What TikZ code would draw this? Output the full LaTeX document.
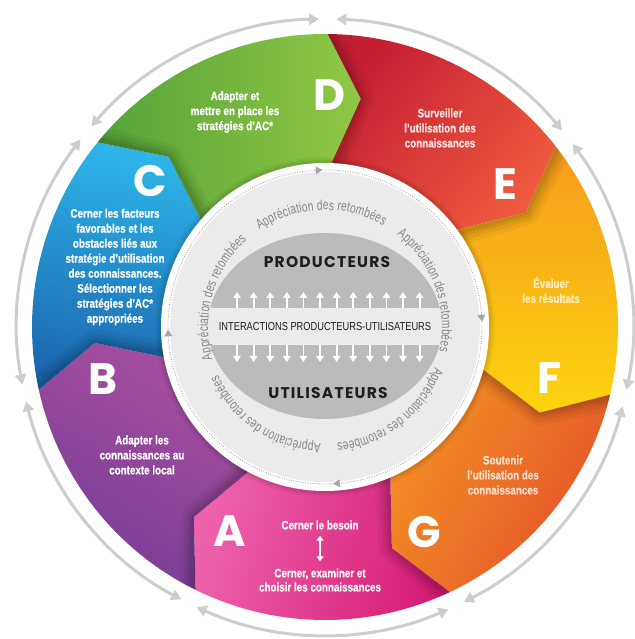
\documentclass[tikz,border=0pt]{standalone}
\usepackage{fontspec}
\setmainfont{Liberation Sans}
\newfontfamily\condfont[FakeStretch=0.8]{Liberation Sans}
\newfontfamily\condbold[FakeStretch=0.8, FakeBold=0.7]{Liberation Sans Bold}
\newfontfamily\apprfont[FakeStretch=0.72]{Liberation Sans}
\newfontfamily\bigfont{Poppins}
\newfontfamily\headfont[LetterSpace=8]{Poppins}
\usetikzlibrary{arrows.meta,decorations.text}
\definecolor{ringgrey}{HTML}{CDCDCD}
\definecolor{apprgrey}{HTML}{858585}
\definecolor{dotgrey}{HTML}{A5A5A5}
\definecolor{lightring}{HTML}{EBEBEB}
\definecolor{discgrey}{HTML}{BBBBBB}
\definecolor{darktext}{HTML}{1E1E1E}
\definecolor{Et}{HTML}{EF5A3E}\definecolor{Eb}{HTML}{C41E32}
\definecolor{Ft}{HTML}{F49B1D}\definecolor{Fb}{HTML}{FDD40F}
\definecolor{Gt}{HTML}{F39224}\definecolor{Gb}{HTML}{E5502A}
\definecolor{At}{HTML}{EE62AB}\definecolor{Ab}{HTML}{D61C74}
\definecolor{Bt}{HTML}{A94F9F}\definecolor{Bb}{HTML}{783D97}
\definecolor{Ct}{HTML}{2DB6E9}\definecolor{Cb}{HTML}{1C66AE}
\definecolor{Dt}{HTML}{90C844}\definecolor{Db}{HTML}{55A23A}
\begin{document}
\begin{tikzpicture}[x=1pt,y=1pt,
  segtext/.style={text=white, font=\condbold\fontsize{12.3}{15}\selectfont, align=center, inner sep=0pt},
  bigletter/.style={text=white, font=\bigfont\bfseries\fontsize{44}{44}\selectfont, inner sep=0pt},
  outarrow/.style={draw=ringgrey, line width=3pt, {Triangle[length=10pt,width=11pt]}-{Triangle[length=10pt,width=11pt]}},
  headtext/.style={text=darktext, font=\headfont\bfseries\fontsize{15.5}{16}\selectfont, inner sep=0pt},
  pu/.style={draw=white, line width=1.8pt, -{Triangle[length=6pt,width=7.5pt]}}]
\useasboundingbox (0,0) rectangle (634,639);
\begin{scope}[shift={(325,312)}]
  \def\Ro{293}
  % coloured segments
  \foreach \a/\ct/\cb/\ang in {89.5/Et/Eb/-130, 38.0714/Ft/Fb/0, -13.3572/Gt/Gb/60, -64.7858/At/Ab/75, -116.2144/Bt/Bb/-30, -167.643/Ct/Cb/-10, -219.0716/Dt/Db/-90} {
    \pgfmathsetmacro\b{\a-51.4286}
    \shade[top color=\ct, bottom color=\cb, shading angle=\ang]
      (\a:\Ro) arc[start angle=\a, end angle=\b, radius=\Ro] -- (\b-8.4:231) -- (\b+0.5:150)
      arc[start angle=\b+0.5, end angle=\a+0.5, radius=150] -- (\a-8.4:231) -- cycle;
  }
  % shadows cast by each chevron on the next segment
  \foreach \a in {89.5, 38.0714, -13.3572, -64.7858, -116.2144, -167.643, -219.0716} {
    \pgfmathsetmacro\b{\a-51.4286}
    \begin{scope}
      \clip (\a:\Ro) arc[start angle=\a, end angle=\b, radius=\Ro] -- (\b-8.4:231) -- (\b+0.5:150)
      arc[start angle=\b+0.5, end angle=\a+0.5, radius=150] -- (\a-8.4:231) -- cycle;
      \foreach \w/\o in {26/0.04, 18/0.05, 11/0.06, 5/0.07}
        \draw[black, opacity=\o, line width=\w, line join=round] (\a:\Ro+6) -- (\a-8.4:231) -- (\a+0.5:140);
    \end{scope}
  }
  % outer arrows
  \foreach \a in {89.5, 38.0714, -13.3572, -64.7858, -116.2144, -167.643, -219.0716} {
    \draw[outarrow] (\a-1.6:308) arc[start angle=\a-1.6, end angle=\a-51.4286+1.6, radius=308];
  }
  % inner disc
  \foreach \w/\o in {10/0.03, 6/0.04, 3/0.05}
    \draw[black, opacity=\o, line width=\w] (0,0) circle (165);
  \fill[white] (0,0) circle (164);
  \fill[lightring] (0,0) circle (155);
  \draw[dotgrey, line width=0.9pt, dash pattern=on 0.8pt off 1.6pt] (0,0) circle (157);
  \foreach \t in {91, 2, -87, 181}
    \fill[dotgrey] (\t:157) -- (\t+2.4:153) -- (\t+2.4:161) -- cycle;
  \begin{scope}
    \clip (0,1) ellipse [x radius=117, y radius=93];
    \fill[discgrey] (-130,-110) rectangle (130,110);
    \fill[lightring] (-130,-18) rectangle (130,19);
  \end{scope}
  \foreach \i in {0,...,11} {
    \draw[pu] (-88+16.6*\i,19) -- (-88+16.6*\i,35);
    \draw[pu] (-88+16.6*\i,-18) -- (-88+16.6*\i,-35);
  }
  \foreach \s in {124, 52, -20, -92, -164} {
    \path[decorate, decoration={text along path, text color=apprgrey,
      text={|\apprfont\fontsize{14}{14}\selectfont|Appréciation des retombées},
      text align={fit to path}}]
      (\s:117) arc[start angle=\s, end angle=\s-64, radius=117];
  }
\end{scope}
% central texts
\node[headtext] (prod) at (327,377) {PRODUCTEURS};
\node[headtext] (util) at (328,246) {UTILISATEURS};
\node[inner sep=0pt, text=darktext, font=\condfont\fontsize{11.6}{12}\selectfont] (inter) at (325,312) {INTERACTIONS PRODUCTEURS-UTILISATEURS};
% big letters
\node[bigletter] (lA) at (230,108) {A};
\node[bigletter] (lB) at (103,260) {B};
\node[bigletter] (lC) at (150,458) {C};
\node[bigletter] (lD) at (329,544) {D};
\node[bigletter] (lE) at (505,455) {E};
\node[bigletter] (lF) at (550,261) {F};
\node[bigletter] (lG) at (424,107) {G};
% segment texts
\node[segtext] (tD) at (235,527) {Adapter et\\mettre en place les\\stratégies d’AC*};
\node[segtext, text opacity=0.85] (tE) at (440,511) {Surveiller\\l’utilisation des\\connaissances};
\node[segtext, text opacity=0.7] (tF) at (551,349) {Évaluer\\les résultats};
\node[segtext, text opacity=0.75] (tG) at (503,164) {Soutenir\\l’utilisation des\\connaissances};
\node[segtext] (tB) at (142,184) {Adapter les\\connaissances au\\contexte local};
\node[segtext] (tC) at (115,372) {Cerner les facteurs\\favorables et les\\obstacles liés aux\\stratégie d’utilisation\\des connaissances.\\Sélectionner les\\stratégies d’AC*\\appropriées};
\node[segtext] (tA1) at (320,114) {Cerner le besoin};
\node[segtext, font=\condbold\fontsize{12.3}{14}\selectfont] (tA2) at (320,59) {Cerner, examiner et\\choisir les connaissances};
\draw[white, line width=1.6pt, {Triangle[length=5pt,width=7pt]}-{Triangle[length=5pt,width=7pt]}, shorten <=6pt, shorten >=7pt] (tA1.south) -- (tA2.north);
\end{tikzpicture}
\end{document}
